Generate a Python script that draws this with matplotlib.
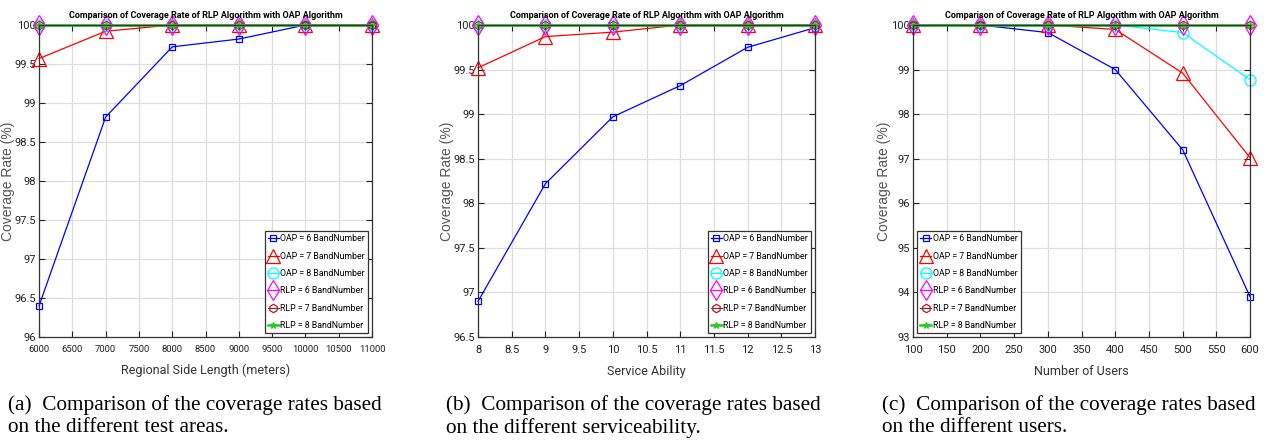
import matplotlib
matplotlib.use('Agg')
import matplotlib.pyplot as plt
from matplotlib.ticker import MultipleLocator, FormatStrFormatter

# panel (a): regional side length
side_length = [6000, 7000, 8000, 9000, 10000, 11000]
a_oap6 = [96.40, 98.82, 99.72, 99.82, 100.0, 100.0]
a_oap7 = [99.57, 99.92, 100.0, 100.0, 100.0, 100.0]
a_oap8 = [100.0, 100.0, 100.0, 100.0, 100.0, 100.0]
a_rlp6 = [100.0, 100.0, 100.0, 100.0, 100.0, 100.0]
a_rlp7 = [100.0, 100.0, 100.0, 100.0, 100.0, 100.0]
a_rlp8 = [100.0, 100.0, 100.0, 100.0, 100.0, 100.0]

# panel (b): service ability
service_ability = [8, 9, 10, 11, 12, 13]
b_oap6 = [96.90, 98.22, 98.97, 99.32, 99.75, 99.97]
b_oap7 = [99.52, 99.87, 99.92, 100.0, 100.0, 100.0]
b_oap8 = [100.0, 100.0, 100.0, 100.0, 100.0, 100.0]
b_rlp6 = [100.0, 100.0, 100.0, 100.0, 100.0, 100.0]
b_rlp7 = [100.0, 100.0, 100.0, 100.0, 100.0, 100.0]
b_rlp8 = [100.0, 100.0, 100.0, 100.0, 100.0, 100.0]

# panel (c): number of users
num_users = [100, 200, 300, 400, 500, 600]
c_oap6 = [100.0, 100.0, 99.83, 99.00, 97.20, 93.90]
c_oap7 = [100.0, 100.0, 100.0, 99.90, 98.92, 97.02]
c_oap8 = [100.0, 100.0, 100.0, 100.0, 99.83, 98.77]
c_rlp6 = [100.0, 100.0, 100.0, 100.0, 100.0, 100.0]
c_rlp7 = [100.0, 100.0, 100.0, 100.0, 100.0, 100.0]
c_rlp8 = [100.0, 100.0, 100.0, 100.0, 100.0, 100.0]

labels = ['OAP = 6 BandNumber', 'OAP = 7 BandNumber', 'OAP = 8 BandNumber',
          'RLP = 6 BandNumber', 'RLP = 7 BandNumber', 'RLP = 8 BandNumber']
styles = [dict(color='blue', marker='s', ms=5, lw=0.9),
          dict(color='red', marker='^', ms=10, lw=0.9),
          dict(color='cyan', marker='o', ms=8, lw=0.9),
          dict(color='magenta', marker='d', ms=10, lw=0.9),
          dict(color='#a2222a', marker='h', ms=6, lw=0.9),
          dict(color='#22cc22', marker='*', ms=5, lw=1.8)]

sans = ['Roboto', 'Liberation Sans', 'DejaVu Sans']
serif = ['Liberation Serif', 'DejaVu Serif']

panels = [
    (side_length, [a_oap6, a_oap7, a_oap8, a_rlp6, a_rlp7, a_rlp8],
     'Regional Side Length (meters)', (96, 100), 0.5, (6000, 11000), 500,
     'lower right', '(a)  Comparison of the coverage rates based\non the different test areas.'),
    (service_ability, [b_oap6, b_oap7, b_oap8, b_rlp6, b_rlp7, b_rlp8],
     'Service Ability', (96.5, 100), 0.5, (8, 13), 0.5,
     'lower right', '(b)  Comparison of the coverage rates based\non the different serviceability.'),
    (num_users, [c_oap6, c_oap7, c_oap8, c_rlp6, c_rlp7, c_rlp8],
     'Number of Users', (93, 100), 1, (100, 600), 50,
     'lower left', '(c)  Comparison of the coverage rates based\non the different users.'),
]

lefts = [0.0307, 0.3758, 0.7178]
widths = [0.2618, 0.265, 0.265]
caption_x = [8, 446, 882]
ylabel_x = [8, 447, 884]
xtick_size = [6.8, 8, 8]

fig = plt.figure(figsize=(12.72, 4.44), dpi=100)

for i, (x, series, xlabel, ylim, ystep, xlim, xstep, loc, caption) in enumerate(panels):
    ax = fig.add_axes([lefts[i], 0.241, widths[i], 0.7027])
    for y, lab, st in zip(series, labels, styles):
        ax.plot(x, y, label=lab, color=st['color'], marker=st['marker'],
                markersize=st['ms'], linewidth=st['lw'], markerfacecolor='none',
                markeredgewidth=0.9, clip_on=False)
    ax.set_xlim(*xlim)
    ax.set_ylim(*ylim)
    ax.xaxis.set_major_locator(MultipleLocator(xstep))
    ax.yaxis.set_major_locator(MultipleLocator(ystep))
    ax.xaxis.set_major_formatter(FormatStrFormatter('%g'))
    ax.yaxis.set_major_formatter(FormatStrFormatter('%g'))
    ax.grid(True, color='#dddddd', linewidth=0.9)
    ax.set_axisbelow(True)
    ax.tick_params(direction='in', top=True, right=True, length=4, width=0.8,
                   colors='#222222')
    ax.tick_params(axis='x', pad=6, labelsize=xtick_size[i])
    ax.tick_params(axis='y', pad=2, labelsize=8)
    for lbl in ax.get_xticklabels() + ax.get_yticklabels():
        lbl.set_family(sans)
    for sp in ax.spines.values():
        sp.set_color('#333333')
        sp.set_linewidth(0.9)
    ax.set_xlabel(xlabel, family=sans, fontsize=9, color='#333333', labelpad=7)
    ax.set_title('Comparison of Coverage Rate of RLP Algorithm with OAP Algorithm',
                 family=sans, fontsize=6.5, fontweight='bold', pad=5)
    fig.text(ylabel_x[i] / 1272, 1 - 181 / 444, 'Coverage Rate (%)', rotation=90,
             ha='center', va='center', fontsize=10, color='#555555',
             family=['Liberation Sans', 'DejaVu Sans'])
    leg = ax.legend(loc=loc, prop={'family': sans, 'size': 6.3}, fancybox=False,
                    framealpha=1, edgecolor='#333333', borderpad=0.35, labelspacing=0.95,
                    handlelength=1.3, handletextpad=0.15, borderaxespad=0.45)
    leg.get_frame().set_linewidth(0.9)
    fig.text(caption_x[i] / 1272, 1 - 395 / 444, caption, ha='left', va='top',
             family=serif, fontsize=15.3, linespacing=1.2)

fig.savefig('out.png', dpi=100)
